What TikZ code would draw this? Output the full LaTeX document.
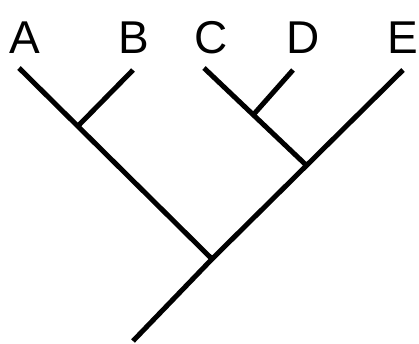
\documentclass[tikz,border=0pt]{standalone}
\usepackage{fontspec}
\setmainfont{Liberation Sans}
\begin{document}
\begin{tikzpicture}[x=1pt,y=-1pt,
  branch/.style={line width=5pt,black},
  taxon/.style={anchor=base,inner sep=0pt,font=\fontsize{46}{46}\selectfont}]
\useasboundingbox (0,0) rectangle (419,343);
\coordinate (a) at (19,68);
\coordinate (b) at (133,70);
\coordinate (c) at (204,68);
\coordinate (d) at (293,70);
\coordinate (e) at (403,70);
\coordinate (ab) at (78,126);
\coordinate (cd) at (254,114);
\coordinate (cde) at (305,164);
\coordinate (r) at (212,259);
\coordinate (root) at (133,341);
\node[taxon] (la) at (25,53) {A};
\node[taxon] (lb) at (134,53) {B};
\node[taxon] (lc) at (211,53) {C};
\node[taxon] (ld) at (303,53) {D};
\node[taxon] (le) at (403,53) {E};
\draw[branch] (a) -- (r);
\draw[branch] (b) -- (ab);
\draw[branch] (root) -- (r) -- (e);
\draw[branch] (c) -- (cde);
\draw[branch] (d) -- (cd);
\end{tikzpicture}
\end{document}
